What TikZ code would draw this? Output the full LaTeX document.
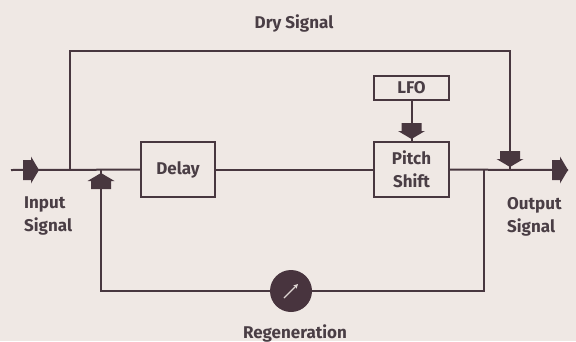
\documentclass[tikz,border=0pt]{standalone}
\usepackage{fontspec}
\setmainfont{Fira Sans}
\usepackage{xcolor}
\usepackage{tikz}
\usetikzlibrary{arrows.meta,positioning}

\definecolor{paper}{RGB}{239,232,228}
\definecolor{ink}{RGB}{72,55,63}
\definecolor{inktext}{RGB}{74,62,69}
\definecolor{knobfill}{RGB}{72,52,62}

\begin{document}
\begin{tikzpicture}[x=1pt, y=-1pt,
    font=\fontsize{17}{23}\selectfont\bfseries,
    wire/.style={draw=ink, line width=2pt},
    block/.style={draw=ink, line width=2pt, minimum width=74pt,
      minimum height=55pt, align=center, text=inktext, inner sep=0pt},
    lbl/.style={text=inktext, align=left, inner sep=0pt},
    knob/.style={circle, fill=knobfill, minimum size=42pt, inner sep=0pt},
    head/.pic={\fill[ink] (0,0) -- (-8,13.5) -- (-8,10) -- (-16,10)
      -- (-16,-10) -- (-8,-10) -- (-8,-13.5) -- cycle;}]
  % Page
  \useasboundingbox (0,0) rectangle (576,341);
  \fill[paper] (0,0) rectangle (576,341);

  % Blocks
  \node[block] (delay) at (178,169.5) {Delay};
  \node[block, minimum width=75pt] (pitch) at (411.5,169.5) {Pitch\\Shift};
  \node[block, minimum width=75pt, minimum height=24pt,
    above=40pt of pitch] (lfo) {LFO};
  \node[knob] (knob) at (291,291) {};

  % Junctions on the main line
  \coordinate (in) at (11,170);
  \coordinate (split) at (70,170);
  \coordinate (sum) at (101,170);
  \coordinate (tap) at (484,170);
  \coordinate (merge) at (510,170);
  \coordinate (out) at (568,170);

  % Main signal path
  \draw[wire] (in) -- (delay);
  \draw[wire] (delay) -- (pitch);
  \draw[wire] (pitch) -- (out);
  \draw[wire] (lfo) -- (pitch);

  % Dry signal
  \draw[wire] (split) -- ++(0,-119) -| (merge);

  % Regeneration loop
  \draw[wire] (tap) |- (knob);
  \draw[wire] (knob) -| (sum);
  \draw[paper!90!ink, line width=1.2pt, -{Stealth[length=4.5pt,width=4.5pt]}]
    (knob.center) ++(-7,7) -- ++(14,-14);

  % Flow heads
  \pic at (39,170) {head};
  \pic[rotate=90] at (101,173) {head};
  \pic[rotate=-90] at (510,167) {head};
  \pic[rotate=-90] at (411.5,139) {head};
  \pic at (568,170) {head};

  % Labels
  \node[lbl, anchor=base] (drylbl) at (294,28) {Dry Signal};
  \node[lbl, anchor=north west] (inlbl) at (24,197) {Input\\Signal};
  \node[lbl, anchor=north west] (outlbl) at (507,197) {Output\\Signal};
  \node[lbl, anchor=base] (regenlbl) at (295,338) {Regeneration};
\end{tikzpicture}
\end{document}
